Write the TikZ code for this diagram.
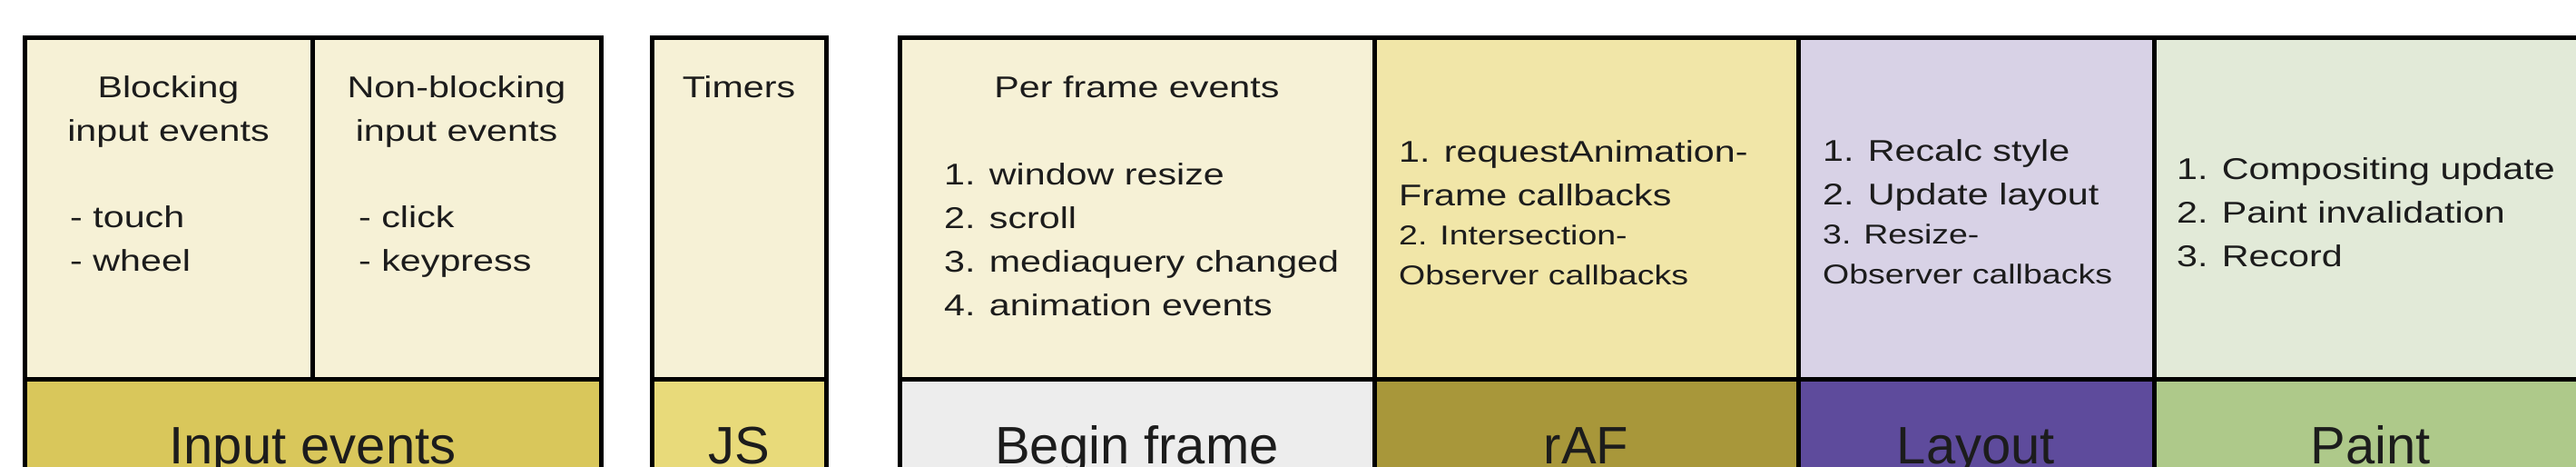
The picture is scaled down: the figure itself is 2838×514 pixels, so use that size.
\documentclass[tikz,border=0pt]{standalone}
\usepackage{fontspec}
\setmainfont{Liberation Sans}
\newfontfamily\stretchf[FakeStretch=1.25]{Liberation Sans}
\definecolor{cream}{HTML}{F6F1D6}
\definecolor{raftop}{HTML}{F1E6A8}
\definecolor{laytop}{HTML}{D8D2E6}
\definecolor{paitop}{HTML}{E2EAD8}
\definecolor{inpbot}{HTML}{D9C75B}
\definecolor{jsbot}{HTML}{E8DA7A}
\definecolor{bfbot}{HTML}{EDEDED}
\definecolor{rafbot}{HTML}{A8973A}
\definecolor{laybot}{HTML}{5E4B9C}
\definecolor{paibot}{HTML}{AEC98A}
\definecolor{txt}{HTML}{1C1C1C}
\begin{document}
\begin{tikzpicture}[x=1pt,y=-1pt,
  cellbox/.style={rectangle, draw=black, line width=5pt, inner sep=0pt, outer sep=0pt},
  topcell/.style={cellbox, minimum height=376pt},
  botcell/.style={cellbox, minimum height=143pt},
  small/.style={font=\stretchf\fontsize{33}{48}\selectfont, text=txt, inner sep=0pt},
  smaller/.style={font=\stretchf\fontsize{30}{44}\selectfont, text=txt, inner sep=0pt},
  big/.style={font=\fontsize{58}{70}\selectfont, text=txt, inner sep=0pt, anchor=base}]
\clip (0,0) rectangle (2838,514);
\fill[white] (0,0) rectangle (2838,514);

% cells
\node[topcell, fill=cream, minimum width=317pt] (blk) at (185.5,229) {};
\node[topcell, fill=cream, minimum width=318pt] (nbk) at (503,229) {};
\node[botcell, fill=inpbot, minimum width=635pt] (inp) at (344.5,488.5) {};
\node[topcell, fill=cream, minimum width=192pt] (tim) at (814,229) {};
\node[botcell, fill=jsbot, minimum width=192pt] (js) at (814,488.5) {};
\node[topcell, fill=cream, minimum width=523pt] (pfe) at (1252.5,229) {};
\node[botcell, fill=bfbot, minimum width=523pt] (bf) at (1252.5,488.5) {};
\node[topcell, fill=raftop, minimum width=467pt] (raft) at (1747.5,229) {};
\node[botcell, fill=rafbot, minimum width=467pt] (raf) at (1747.5,488.5) {};
\node[topcell, fill=laytop, minimum width=392pt] (layt) at (2177,229) {};
\node[botcell, fill=laybot, minimum width=392pt] (lay) at (2177,488.5) {};
\node[topcell, fill=paitop, minimum width=478pt] (pait) at (2612,229) {};
\node[botcell, fill=paibot, minimum width=478pt] (pai) at (2612,488.5) {};

% blocking input events
\node[small, anchor=base] (b1) at (185.5,107) {Blocking};
\node[small, anchor=base] (b2) at (185.5,155) {input events};
\node[small, anchor=base west] (b3) at (77,250) {- touch};
\node[small, anchor=base west] (b4) at (77,298) {- wheel};
% non-blocking
\node[small, anchor=base] (n1) at (503,107) {Non-blocking};
\node[small, anchor=base] (n2) at (503,155) {input events};
\node[small, anchor=base west] (n3) at (395,250) {- click};
\node[small, anchor=base west] (n4) at (395,298) {- keypress};
% timers
\node[small, anchor=base] (t1) at (814,107) {Timers};
% per frame events
\node[small, anchor=base] (p0) at (1252.5,107) {Per frame events};
\node[small, anchor=base west] (p1) at (1040,203) {1. window resize};
\node[small, anchor=base west] (p2) at (1040,251) {2. scroll};
\node[small, anchor=base west] (p3) at (1040,299) {3. mediaquery changed};
\node[small, anchor=base west] (p4) at (1040,347) {4. animation events};
% rAF
\node[small, anchor=base west] (r1) at (1541,178) {1. requestAnimation-};
\node[small, anchor=base west] (r2) at (1541,226) {Frame callbacks};
\node[smaller, anchor=base west] (r3) at (1541,269) {2. Intersection-};
\node[smaller, anchor=base west] (r4) at (1541,313) {Observer callbacks};
% layout
\node[small, anchor=base west] (l1) at (2008,177) {1. Recalc style};
\node[small, anchor=base west] (l2) at (2008,225) {2. Update layout};
\node[smaller, anchor=base west] (l3) at (2008,268) {3. Resize-};
\node[smaller, anchor=base west] (l4) at (2008,312) {Observer callbacks};
% paint
\node[small, anchor=base west] (q1) at (2398,197) {1. Compositing update};
\node[small, anchor=base west] (q2) at (2398,245) {2. Paint invalidation};
\node[small, anchor=base west] (q3) at (2398,293) {3. Record};

% bottom labels
\node[big] (lbl1) at (344.5,510) {Input events};
\node[big] (lbl2) at (814,510) {JS};
\node[big] (lbl3) at (1252.5,510) {Begin frame};
\node[big] (lbl4) at (1747.5,510) {rAF};
\node[big] (lbl5) at (2177,510) {Layout};
\node[big] (lbl6) at (2612,510) {Paint};
\end{tikzpicture}
\end{document}
